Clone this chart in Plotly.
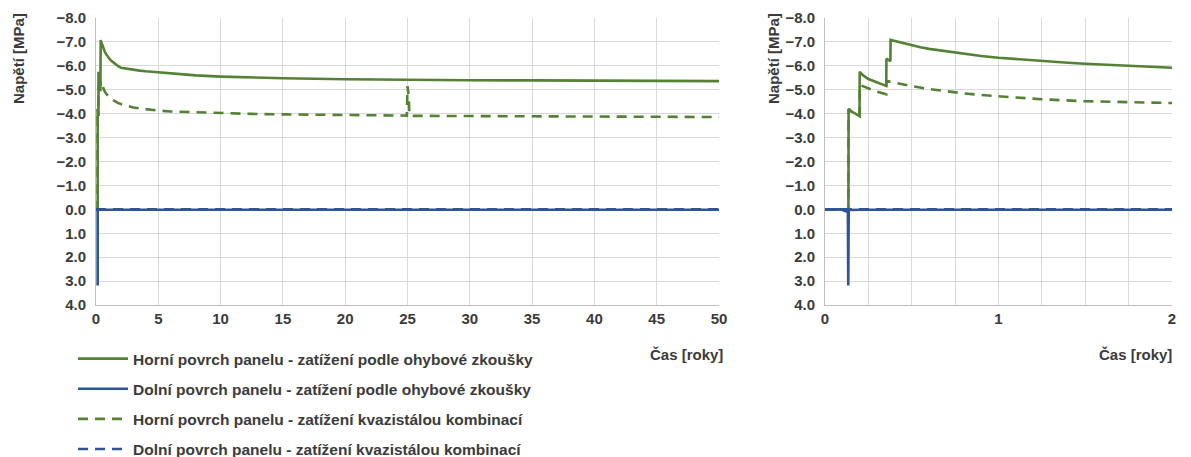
import plotly.graph_objects as go
from plotly.subplots import make_subplots

# Time [years] and stress [MPa] for each surface / load case
t_top_bend = [0, 0.135, 0.136, 0.15, 0.175, 0.199, 0.2, 0.22, 0.25, 0.3, 0.353, 0.354,
              0.365, 0.377, 0.378, 0.42, 0.46, 0.5, 0.55, 0.6, 0.7, 0.8, 0.9, 1.0, 1.1,
              1.25, 1.4, 1.5, 1.75, 2.0, 2.5, 3, 3.5, 4, 5, 6, 7, 8, 10, 12.5, 15, 20,
              25, 30, 35, 40, 45, 50]
s_top_bend = [0, 0, -4.2, -4.1, -4.0, -3.9, -5.75, -5.6, -5.45, -5.3, -5.16, -6.3,
              -6.25, -6.2, -7.08, -7.0, -6.93, -6.86, -6.78, -6.71, -6.6, -6.5, -6.41, -6.34, -6.28,
              -6.2, -6.13, -6.09, -6.0, -5.92, -5.87, -5.83, -5.8, -5.77, -5.72, -5.67, -5.63,
              -5.6, -5.55, -5.51, -5.48, -5.44, -5.41, -5.4, -5.39, -5.38, -5.37, -5.36]

t_bot_bend = [0, 0.09, 0.128, 0.132, 0.134, 0.137, 0.2, 1, 50]
s_bot_bend = [0, 0, 0.1, 0.12, 3.18, 0.03, 0.02, 0.02, 0.02]

t_top_quasi = [0, 0.135, 0.136, 0.15, 0.175, 0.199, 0.2, 0.25, 0.3, 0.353, 0.354, 0.4,
               0.45, 0.5, 0.6, 0.7, 0.8, 0.9, 1.0, 1.25, 1.5, 1.75, 2.0, 2.5, 3, 3.5, 4,
               5, 6, 8, 10, 12.5, 15, 20, 24.95, 25.0, 25.1, 25.15, 25.25, 30, 35, 40,
               45, 50]
s_top_quasi = [0, 0, -4.2, -4.1, -4.0, -3.9, -5.2, -5.05, -4.92, -4.81, -5.37, -5.3,
               -5.22, -5.15, -5.03, -4.93, -4.85, -4.78, -4.72, -4.6, -4.52, -4.45, -4.4,
               -4.32, -4.26, -4.22, -4.18, -4.13, -4.09, -4.05, -4.02, -3.99, -3.97, -3.94,
               -3.92, -5.15, -4.7, -4.0, -3.91, -3.9, -3.89, -3.88, -3.87, -3.86]

t_bot_quasi = [0, 50]
s_bot_quasi = [0, 0]

y_ticks = [-8, -7, -6, -5, -4, -3, -2, -1, 0, 1, 2, 3, 4]

GREEN = "#548235"
BLUE = "#2F5597"
TEXT = "#3b3b3b"
GRID = "#d9d9d9"
FONT = "Liberation Sans"
DASH = "10px,7px"

series = [
    # (name, t, s, colour, dash, legend rank) -- drawn in this order
    ("Horní povrch panelu - zatížení kvazistálou kombinací", t_top_quasi, s_top_quasi, GREEN, DASH, 3),
    ("Horní povrch panelu - zatížení podle ohybové zkoušky", t_top_bend, s_top_bend, GREEN, "solid", 1),
    ("Dolní povrch panelu - zatížení podle ohybové zkoušky", t_bot_bend, s_bot_bend, BLUE, "solid", 2),
    ("Dolní povrch panelu - zatížení kvazistálou kombinací", t_bot_quasi, s_bot_quasi, BLUE, DASH, 4),
]

fig = make_subplots(rows=1, cols=2)
for i, (name, t, s, col, dash, rank) in enumerate(series):
    for c in (1, 2):
        fig.add_trace(go.Scatter(
            x=t, y=s, mode="lines", name=name,
            line=dict(color=col, width=2.6, dash=dash),
            legendgroup=f"g{i}", legendrank=rank, showlegend=(c == 1),
            hoverinfo="skip"), row=1, col=c)

W, H = 1191, 457
ydom = [1 - 305 / H, 1 - 18 / H]
axis_common = dict(showgrid=True, gridcolor=GRID, gridwidth=1, showline=True,
                   linecolor="#bfbfbf", linewidth=1, zeroline=False, ticks="",
                   automargin=False,
                   tickfont=dict(family=FONT, size=15, color=TEXT, weight="bold"))

fig.update_layout(
    width=W, height=H, margin=dict(l=0, r=0, t=0, b=0, autoexpand=False),
    paper_bgcolor="white", plot_bgcolor="white",
    font=dict(family=FONT, size=15, color=TEXT),
    xaxis=dict(domain=[96 / W, 719 / W], range=[0, 50], dtick=5, **axis_common),
    xaxis2=dict(domain=[825 / W, 1172 / W], range=[0, 2], dtick=1,
                minor=dict(dtick=0.25, showgrid=True, gridcolor=GRID, gridwidth=1, ticks=""),
                **axis_common),
    yaxis=dict(domain=ydom, range=[4, -8], tickvals=y_ticks, tickformat=".1f",
               ticklabelstandoff=6, **axis_common),
    yaxis2=dict(domain=ydom, range=[4, -8], tickvals=y_ticks, tickformat=".1f",
                ticklabelstandoff=6, **axis_common),
    legend=dict(x=73 / W, y=1 - 342 / H, xanchor="left", yanchor="top",
                itemwidth=50, tracegroupgap=7,
                font=dict(family=FONT, size=15.5, color=TEXT, weight="bold"),
                bgcolor="rgba(0,0,0,0)"),
    showlegend=True,
)

title_font = dict(family=FONT, size=15, color=TEXT, weight="bold")
for xpos in (18, 773):
    fig.add_annotation(text="Napětí [MPa]", x=xpos / W, y=1 - 59 / H, xref="paper", yref="paper",
                       textangle=-90, showarrow=False, font=title_font,
                       xanchor="center", yanchor="middle")
for xpos in (725, 1174):
    fig.add_annotation(text="Čas [roky]", x=xpos / W, y=1 - 354 / H, xref="paper", yref="paper",
                       showarrow=False, font=title_font, xanchor="right", yanchor="middle")

fig.write_html("out.html")
